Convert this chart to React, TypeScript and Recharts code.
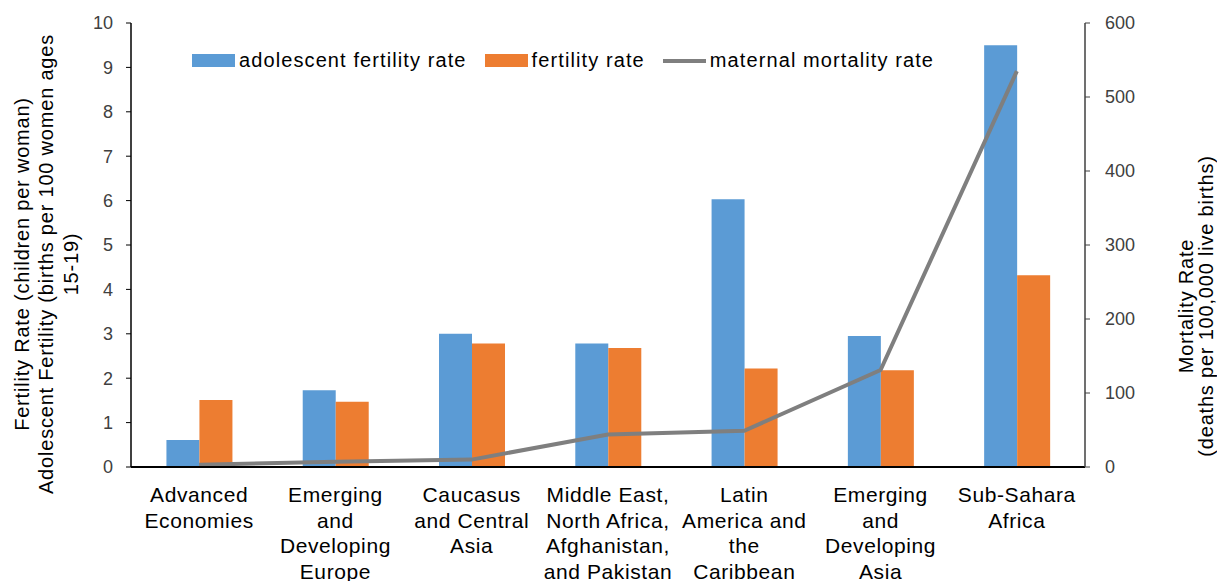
import React from "react";
import {
  ComposedChart, Bar, Line, XAxis, YAxis,
} from "recharts";

// ── Data ──────────────────────────────────────────────────────────────────────

const regions = [
  "Advanced Economies",
  "Emerging and Developing Europe",
  "Caucasus and Central Asia",
  "Middle East, North Africa, Afghanistan, and Pakistan",
  "Latin America and the Caribbean",
  "Emerging and Developing Asia",
  "Sub-Sahara Africa",
];

// how each category label wraps under the axis
const regionLines = [
  ["Advanced", "Economies"],
  ["Emerging", "and", "Developing", "Europe"],
  ["Caucasus", "and Central", "Asia"],
  ["Middle East,", "North Africa,", "Afghanistan,", "and Pakistan"],
  ["Latin", "America and", "the", "Caribbean"],
  ["Emerging", "and", "Developing", "Asia"],
  ["Sub-Sahara", "Africa"],
];

const adolescentFertility = [0.61, 1.73, 3.0, 2.78, 6.03, 2.95, 9.5];
const fertility = [1.51, 1.47, 2.78, 2.68, 2.22, 2.18, 4.32];
const maternalMortality = [3, 7, 10, 44, 49, 131, 535];

const leftTicks = [0, 1, 2, 3, 4, 5, 6, 7, 8, 9, 10];
const rightTicks = [0, 100, 200, 300, 400, 500, 600];

const data = regions.map((name, i) => ({
  name,
  adolescent: adolescentFertility[i],
  fertility: fertility[i],
  mortality: maternalMortality[i],
}));

// ── Styling ───────────────────────────────────────────────────────────────────

const BLUE = "#5B9BD5";
const ORANGE = "#ED7D31";
const GREY = "#7F7F7F";
const FONT = "'Liberation Sans', Arial, sans-serif";
const TICK_COLOR = "#404040";

const CategoryTick = ({ x, y, index }: any) => {
  const lines = regionLines[index] ?? [];
  return (
    <text x={x} y={y} textAnchor="middle" fontFamily={FONT} fontSize={21} letterSpacing={0.6} fill="#000">
      {lines.map((line, i) => (
        <tspan key={i} x={x} dy={i === 0 ? 27 : 25.5}>{line}</tspan>
      ))}
    </text>
  );
};

const LeftTitle = () => (
  <g fontFamily={FONT} fontSize={20} fill="#000" textAnchor="middle" letterSpacing={0.8}>
    <text x={22} y={264} transform="rotate(-90 22 264)" dominantBaseline="central">
      Fertility Rate (children per woman)
    </text>
    <text x={46} y={264} transform="rotate(-90 46 264)" dominantBaseline="central">
      Adolescent Fertility (births per 100 women ages
    </text>
    <text x={71} y={264} transform="rotate(-90 71 264)" dominantBaseline="central">
      15-19)
    </text>
  </g>
);

const RightTitle = () => (
  <g fontFamily={FONT} fontSize={20} fill="#000" textAnchor="middle" letterSpacing={0.8}>
    <text x={1186} y={306} transform="rotate(-90 1186 306)" dominantBaseline="central">
      Mortality Rate
    </text>
    <text x={1206} y={306} transform="rotate(-90 1206 306)" dominantBaseline="central">
      (deaths per 100,000 live births)
    </text>
  </g>
);

const legendItems = [
  { label: "adolescent fertility rate", color: BLUE, kind: "bar" },
  { label: "fertility rate", color: ORANGE, kind: "bar" },
  { label: "maternal mortality rate", color: GREY, kind: "line" },
];

const ChartLegend = () => (
  <div
    style={{
      position: "absolute", top: 49, left: 192,
      display: "flex", alignItems: "center",
      fontFamily: FONT, fontSize: 20, letterSpacing: 1.1, color: "#000", whiteSpace: "nowrap",
    }}
  >
    {legendItems.map((it) => (
      <div key={it.label} style={{ display: "flex", alignItems: "center", marginRight: 18 }}>
        <span
          style={{
            display: "inline-block",
            width: 43,
            height: it.kind === "bar" ? 13 : 4,
            backgroundColor: it.color,
            marginRight: 4,
          }}
        />
        <span>{it.label}</span>
      </div>
    ))}
  </div>
);

export default function App() {
  return (
    <div style={{ width: 1217, height: 581, background: "#fff", position: "relative", overflow: "hidden" }}>
      <style>{`html, body { margin: 0; overflow: hidden; }`}</style>
      <ComposedChart
        width={1217}
        height={581}
        data={data}
        barGap={0}
        barCategoryGap="26%"
        margin={{ top: 23, right: 72, left: 71, bottom: 14 }}
      >
        <XAxis
          dataKey="name"
          height={100}
          interval={0}
          tickLine={false}
          axisLine={{ stroke: "#000", strokeWidth: 2 }}
          tick={<CategoryTick />}
        />
        <YAxis
          yAxisId="left"
          width={60}
          domain={[0, 10]}
          ticks={leftTicks}
          interval={0}
          axisLine={{ stroke: "#000", strokeWidth: 1.5 }}
          tickLine={{ stroke: "#000" }}
          tickSize={5}
          tickMargin={13}
          tick={{ fill: TICK_COLOR, fontSize: 18, fontFamily: FONT }}
          label={{ content: () => <LeftTitle /> }}
        />
        <YAxis
          yAxisId="right"
          orientation="right"
          width={60}
          domain={[0, 600]}
          ticks={rightTicks}
          interval={0}
          axisLine={{ stroke: "#404040", strokeWidth: 1.5 }}
          tickLine={{ stroke: "#404040" }}
          tickSize={5}
          tickMargin={15}
          tick={{ fill: TICK_COLOR, fontSize: 18, fontFamily: FONT }}
          label={{ content: () => <RightTitle /> }}
        />
        <Bar yAxisId="left" dataKey="adolescent" fill={BLUE} isAnimationActive={false} />
        <Bar yAxisId="left" dataKey="fertility" fill={ORANGE} isAnimationActive={false} />
        <Line
          yAxisId="right"
          dataKey="mortality"
          type="linear"
          stroke={GREY}
          strokeWidth={4}
          dot={false}
          activeDot={false}
          isAnimationActive={false}
        />
      </ComposedChart>
      <ChartLegend />
    </div>
  );
}
